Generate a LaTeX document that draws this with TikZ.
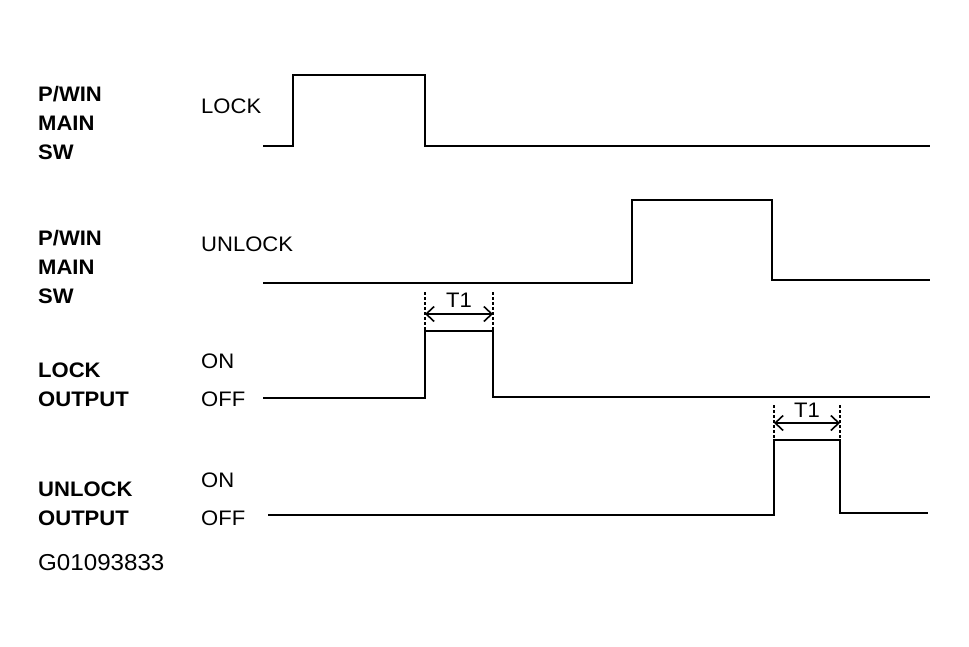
\documentclass[tikz,border=0pt]{standalone}
\usepackage{fontspec}
\setmainfont[FakeStretch=1.05]{Liberation Sans}
\usetikzlibrary{arrows.meta}

\begin{document}
\begin{tikzpicture}[x=1pt,y=-1pt,
    signal/.style={line width=2.2pt},
    timebar/.style={densely dashed,line width=1.4pt},
    timearrow/.style={{Straight Barb[length=8pt,width=15pt,line width=1.6pt]}-{Straight Barb[length=8pt,width=15pt,line width=1.6pt]},line width=1.5pt},
    signame/.style={anchor=base west,inner sep=0pt,font=\fontsize{21}{21}\selectfont\bfseries},
    levelname/.style={anchor=base west,inner sep=0pt,font=\fontsize{21}{21}\selectfont}]

    % Fix the page to the size of the reference
    \useasboundingbox (0,0) rectangle (969,646);

    % Define the left and right ends of every trace
    \def\Xs{263}
    \def\Xe{930}

    % P/WIN MAIN SW (LOCK)
    \draw[signal] (\Xs,146) -- (293,146) -- (293,75) -- (425,75) -- (425,146) -- (\Xe,146);

    % P/WIN MAIN SW (UNLOCK)
    \draw[signal] (\Xs,283) -- (632,283) -- (632,200) -- (772,200) -- (772,280) -- (\Xe,280);

    % LOCK OUTPUT
    \draw[signal] (\Xs,398) -- (425,398) -- (425,331) -- (493,331) -- (493,397) -- (\Xe,397);

    % UNLOCK OUTPUT
    \draw[signal] (268,515) -- (774,515) -- (774,440) -- (840,440) -- (840,513) -- (928,513);

    % Mark the time T1 of the lock output
    \coordinate (LockA) at (425,314);
    \coordinate (LockB) at (493,314);
    \draw[timebar] (425,292) -- (425,331);
    \draw[timebar] (493,292) -- (493,331);
    \draw[timearrow] (LockA) -- (LockB);
    \node[levelname,anchor=base] (LockT) at (459,307) {T1};

    % Mark the time T1 of the unlock output
    \coordinate (UnlockA) at (774,423);
    \coordinate (UnlockB) at (840,423);
    \draw[timebar] (774,405) -- (774,440);
    \draw[timebar] (840,405) -- (840,440);
    \draw[timearrow] (UnlockA) -- (UnlockB);
    \node[levelname,anchor=base] (UnlockT) at (807,417) {T1};

    % Names of the signals
    \node[signame] (SwA1) at (38,101) {P/WIN};
    \node[signame] (SwA2) at (38,130) {MAIN};
    \node[signame] (SwA3) at (38,159) {SW};
    \node[signame] (SwB1) at (38,245) {P/WIN};
    \node[signame] (SwB2) at (38,274) {MAIN};
    \node[signame] (SwB3) at (38,303) {SW};
    \node[signame] (OutA1) at (38,377) {LOCK};
    \node[signame] (OutA2) at (38,406) {OUTPUT};
    \node[signame] (OutB1) at (38,496) {UNLOCK};
    \node[signame] (OutB2) at (38,525) {OUTPUT};

    % Levels of the signals
    \node[levelname] (LvLock) at (201,113) {LOCK};
    \node[levelname] (LvUnlock) at (201,251) {UNLOCK};
    \node[levelname] (LvOnA) at (201,368) {ON};
    \node[levelname] (LvOffA) at (201,406) {OFF};
    \node[levelname] (LvOnB) at (201,487) {ON};
    \node[levelname] (LvOffB) at (201,525) {OFF};

    % Figure number
    \node[levelname,font=\fontsize{23}{23}\selectfont] (FigNo) at (38,570) {G01093833};

\end{tikzpicture}
\end{document}
